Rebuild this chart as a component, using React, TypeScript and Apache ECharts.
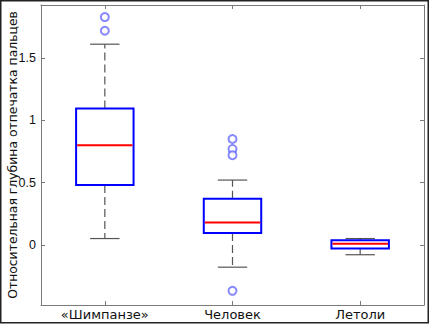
import React, { useEffect, useRef } from "react";
import * as echarts from "echarts";

const categories = ["«Шимпанзе»", "Человек", "Летоли"];
// [whiskerLow, q1, median, q3, whiskerHigh]
const boxStats = [
  [0.05, 0.48, 0.8, 1.096, 1.612],
  [-0.18, 0.094, 0.18, 0.37, 0.52],
  [-0.08, -0.03, 0.008, 0.037, 0.05],
];
// [categoryIndex, value]
const outliers = [
  [0, 1.83],
  [0, 1.72],
  [1, 0.85],
  [1, 0.77],
  [1, 0.72],
  [1, -0.37],
];
const yTicks = [0, 0.5, 1, 1.5];
const yMin = -0.484;
const yMax = 1.927;
const yAxisName = "Относительная глубина отпечатка пальцев";

const FONT = "DejaVu Sans";
const NUM_FONT = "Liberation Sans";

export default function App() {
  const ref = useRef<HTMLDivElement>(null);
  useEffect(() => {
    document.body.style.margin = "0";
    const chart = echarts.init(ref.current!, null, { renderer: "svg" });
    const boxData = boxStats.map((s, i) => [i, ...s]);
    const axisLine = { show: true, onZero: false, lineStyle: { color: "#7a7a7a", width: 1 } };
    const tick = { show: true, inside: true, length: 4, lineStyle: { color: "#7a7a7a" } };
    chart.setOption({
      animation: false,
      backgroundColor: "#fff",
      grid: { left: 41, top: 5, right: 6, bottom: 20, containLabel: false, outerBoundsMode: "none" },
      xAxis: [
        {
          type: "category",
          data: categories,
          boundaryGap: true,
          axisLine,
          axisTick: { ...tick, alignWithLabel: true },
          axisLabel: { color: "#111", fontFamily: FONT, fontSize: 13, margin: 3 },
          splitLine: { show: false },
        },
        {
          type: "category",
          data: categories,
          position: "top",
          boundaryGap: true,
          axisLine,
          axisTick: { ...tick, alignWithLabel: true },
          axisLabel: { show: false },
          splitLine: { show: false },
        },
      ],
      yAxis: [
        {
          type: "value",
          min: yMin,
          max: yMax,
          axisLine,
          axisTick: { ...tick, customValues: yTicks },
          axisLabel: {
            color: "#111",
            fontFamily: NUM_FONT,
            fontSize: 12.5,
            margin: 5,
            customValues: yTicks,
            formatter: (v: number) => String(v),
          },
          splitLine: { show: false },
          name: yAxisName,
          nameLocation: "middle",
          nameGap: 23,
          nameMoveOverlap: false,
          nameTextStyle: { color: "#111", fontFamily: FONT, fontSize: 12.4 },
        },
        {
          type: "value",
          min: yMin,
          max: yMax,
          position: "right",
          axisLine,
          axisTick: { ...tick, customValues: yTicks },
          axisLabel: { show: false },
          splitLine: { show: false },
        },
      ],
      series: [
        {
          type: "custom",
          xAxisIndex: 0,
          yAxisIndex: 0,
          data: boxData,
          renderItem: (params: any, api: any) => {
            const idx = api.value(0);
            const band = api.size([1, 0])[0];
            const bw = band * 0.45;
            const cw = band * 0.23;
            const lo = api.coord([idx, api.value(1)]);
            const q1 = api.coord([idx, api.value(2)]);
            const md = api.coord([idx, api.value(3)]);
            const q3 = api.coord([idx, api.value(4)]);
            const hi = api.coord([idx, api.value(5)]);
            const x = lo[0];
            const whisk = { stroke: "#555", lineWidth: 1.2, lineDash: [8, 4] };
            const cap = { stroke: "#555", lineWidth: 1.2 };
            return {
              type: "group",
              children: [
                { type: "line", shape: { x1: x, y1: q3[1], x2: x, y2: hi[1] }, style: whisk },
                { type: "line", shape: { x1: x, y1: q1[1], x2: x, y2: lo[1] }, style: whisk },
                { type: "line", shape: { x1: x - cw / 2, y1: hi[1], x2: x + cw / 2, y2: hi[1] }, style: cap },
                { type: "line", shape: { x1: x - cw / 2, y1: lo[1], x2: x + cw / 2, y2: lo[1] }, style: cap },
                {
                  type: "rect",
                  shape: { x: x - bw / 2, y: q3[1], width: bw, height: q1[1] - q3[1] },
                  style: { fill: "#fff", stroke: "#0000ff", lineWidth: 2 },
                },
                {
                  type: "line",
                  shape: { x1: x - bw / 2 + 1, y1: md[1], x2: x + bw / 2 - 1, y2: md[1] },
                  style: { stroke: "#ff0000", lineWidth: 2 },
                },
              ],
            };
          },
        },
        {
          type: "scatter",
          xAxisIndex: 0,
          yAxisIndex: 0,
          data: outliers,
          symbol: "emptyCircle",
          symbolSize: 8,
          itemStyle: { color: "#6a6aff", borderColor: "#6a6aff", borderWidth: 1.2 },
        },
      ],
      graphic: [
        {
          type: "rect",
          shape: { x: 0.75, y: 0.75, width: 427.5, height: 322 },
          style: { fill: "none", stroke: "#222", lineWidth: 1.5 },
          silent: true,
          z: 100,
        },
      ],
    });
    return () => chart.dispose();
  }, []);
  return <div ref={ref} style={{ width: 430, height: 325 }} />;
}
